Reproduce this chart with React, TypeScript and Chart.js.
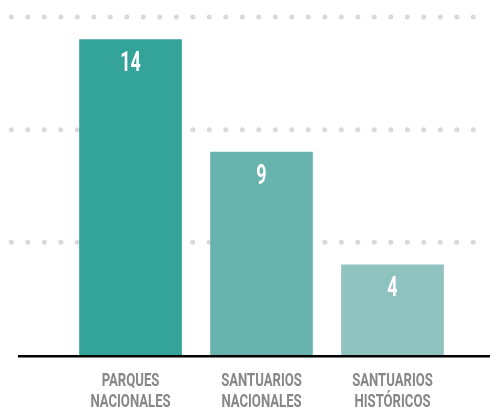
import React, { useEffect, useRef } from "react";
import { Chart, registerables } from "chart.js";

Chart.register(...registerables);

const categories: string[][] = [
  ["PARQUES", "NACIONALES"],
  ["SANTUARIOS", "NACIONALES"],
  ["SANTUARIOS", "HISTÓRICOS"],
];
const values: number[] = [14, 9, 4];
const gridValues: number[] = [5, 10, 15];
const barColors: string[] = ["#34a39a", "#67b3ad", "#8fc3bf"];

const FONT = 'Roboto, "DejaVu Sans Condensed", sans-serif';

const decorPlugin = {
  id: "decor",
  beforeDatasetsDraw(chart: any) {
    const ctx = chart.ctx;
    const y = chart.scales.y;
    ctx.save();
    ctx.fillStyle = "#d9d9d9";
    gridValues.forEach((v) => {
      const py = y.getPixelForValue(v);
      for (let x = 11.3; x <= 474; x += 16.5) {
        ctx.beginPath();
        ctx.arc(x, py, 2.5, 0, Math.PI * 2);
        ctx.fill();
      }
    });
    ctx.restore();
  },
  afterDatasetsDraw(chart: any) {
    const ctx = chart.ctx;
    const y = chart.scales.y;
    const x = chart.scales.x;
    const base = y.getPixelForValue(0);
    ctx.save();
    // baseline
    ctx.strokeStyle = "#000";
    ctx.lineWidth = 2.5;
    ctx.beginPath();
    ctx.moveTo(18, base + 1.25);
    ctx.lineTo(490, base + 1.25);
    ctx.stroke();

    // value labels
    const meta = chart.getDatasetMeta(0);
    ctx.fillStyle = "#ffffff";
    ctx.textAlign = "center";
    ctx.textBaseline = "alphabetic";
    ctx.font = `bold 28px ${FONT}`;
    meta.data.forEach((bar: any, i: number) => {
      const v = chart.data.datasets[0].data[i];
      ctx.save();
      ctx.translate(bar.x, bar.y + 31.5);
      ctx.scale(0.64, 1);
      ctx.fillText(String(v), 0, 0);
      ctx.restore();
    });

    // category labels
    ctx.fillStyle = "#878787";
    ctx.font = `bold 19px ${FONT}`;
    (chart.data.labels as string[][]).forEach((lines, i) => {
      const cx = x.getPixelForTick(i);
      lines.forEach((line, j) => {
        ctx.save();
        ctx.translate(cx, base + 30.5 + j * 21.5);
        ctx.scale(0.69, 1);
        ctx.fillText(line, 0, 0);
        ctx.restore();
      });
    });
    ctx.restore();
  },
};

export default function App() {
  const ref = useRef<HTMLCanvasElement | null>(null);
  useEffect(() => {
    if (!ref.current) return;
    const chart = new Chart(ref.current, {
      type: "bar",
      data: {
        labels: categories as any,
        datasets: [
          {
            data: values,
            backgroundColor: barColors,
            borderWidth: 0,
            barThickness: 102,
          },
        ],
      },
      options: {
        responsive: false,
        animation: false,
        layout: { padding: { left: 65, right: 32, top: 17, bottom: 59 } },
        plugins: { legend: { display: false }, tooltip: { enabled: false } },
        scales: {
          x: { display: false, grid: { display: false } },
          y: { display: false, min: 0, max: 15, grid: { display: false } },
        },
      },
      plugins: [decorPlugin],
    });
    return () => chart.destroy();
  }, []);
  return (
    <div style={{ position: "fixed", left: 0, top: 0, width: 490, height: 414, background: "#fff" }}>
      <canvas ref={ref} width={490} height={414} style={{ width: 490, height: 414, display: "block" }} />
    </div>
  );
}
